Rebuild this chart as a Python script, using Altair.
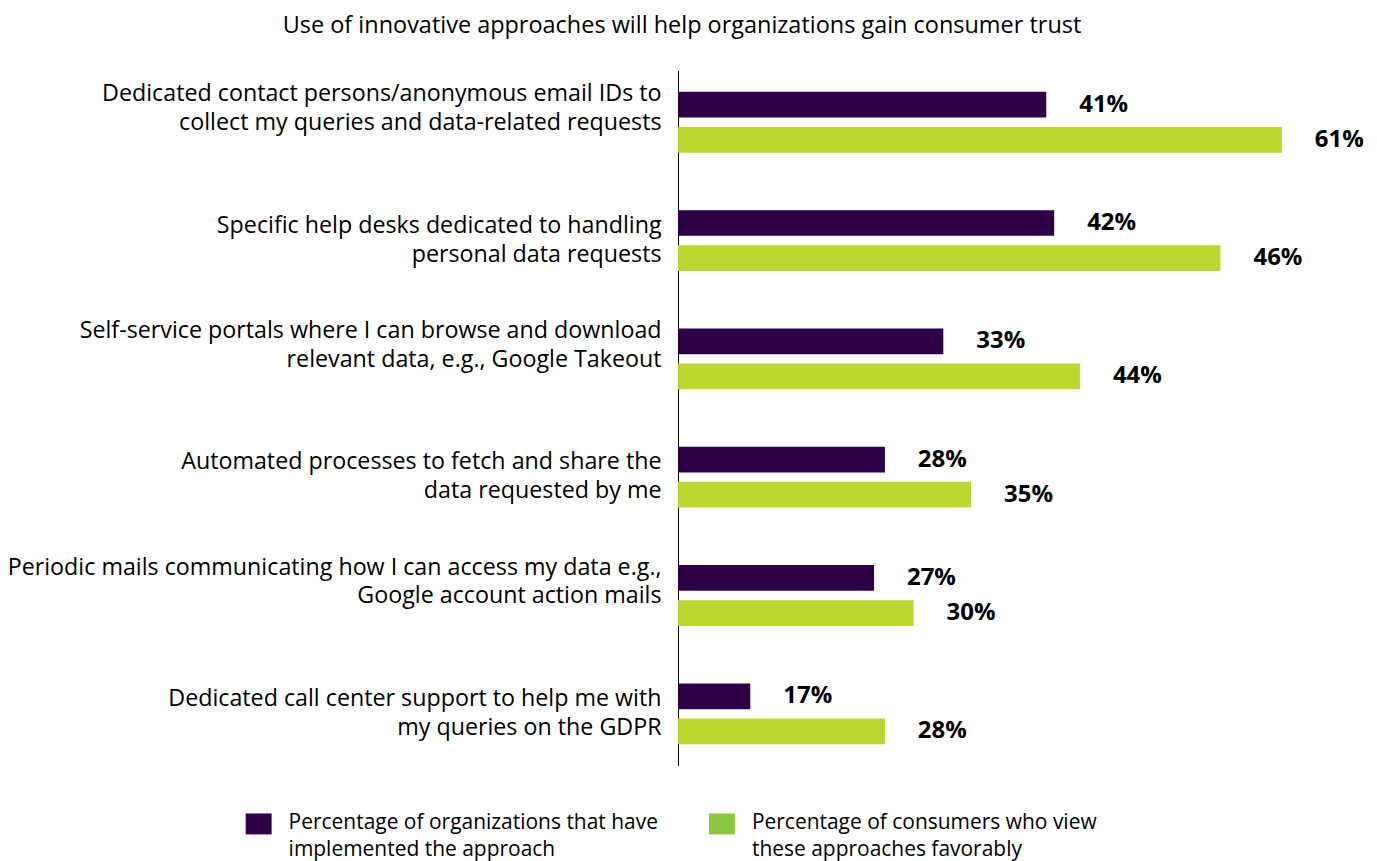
import altair as alt
import pandas as pd

FONT = "Open Sans"

title_text = "Use of innovative approaches will help organizations gain consumer trust"

categories = [
    "Dedicated contact persons/anonymous email IDs to|collect my queries and data-related requests",
    "Specific help desks dedicated to handling|personal data requests",
    "Self-service portals where I can browse and download|relevant data, e.g., Google Takeout",
    "Automated processes to fetch and share the|data requested by me",
    "Periodic mails communicating how I can access my data e.g.,|Google account action mails",
    "Dedicated call center support to help me with|my queries on the GDPR",
]
series = [
    "Percentage of organizations that have implemented the approach",
    "Percentage of consumers who view these approaches favorably",
]
legend_lines = [
    ["Percentage of organizations that have", "implemented the approach"],
    ["Percentage of consumers who view", "these approaches favorably"],
]
# printed values
org_pct = [41, 42, 33, 28, 27, 17]
cons_pct = [61, 46, 44, 35, 30, 28]
# drawn bar lengths (same axis units)
org_bar = [37.2, 38.0, 26.8, 20.9, 19.8, 7.3]
cons_bar = [61.0, 54.8, 40.6, 29.6, 23.8, 20.9]

bar_colors = ["#2E0047", "#BDD632"]
legend_colors = ["#2E0047", "#8DC63F"]

rows = []
for i, c in enumerate(categories):
    rows.append({"category": c, "series": series[0], "bar": org_bar[i], "label": f"{org_pct[i]}%"})
    rows.append({"category": c, "series": series[1], "bar": cons_bar[i], "label": f"{cons_pct[i]}%"})
df = pd.DataFrame(rows)

odd_test = "indexof([" + ",".join("'" + categories[i] + "'" for i in (0, 2, 4)) + "], datum.value) >= 0"

base = alt.Chart(df).encode(
    y=alt.Y(
        "category:N",
        sort=categories,
        scale=alt.Scale(paddingInner=0.486, paddingOuter=0.18),
        axis=alt.Axis(
            title=None,
            labelExpr="split(datum.label, '|')",
            labelFont=FONT,
            labelFontSize=23.3,
            labelColor="black",
            labelPadding=17,
            labelLineHeight=29,
            labelLimit=800,
            labelAlign="right",
            labelBaseline="middle",
            labelOffset={"condition": {"test": odd_test, "value": -28}, "value": -15},
            ticks=False,
            grid=False,
            domain=True,
            domainColor="black",
            domainWidth=1,
        ),
    ),
    yOffset=alt.YOffset("series:N", sort=series, scale=alt.Scale(paddingInner=0.267)),
)

xscale = alt.Scale(domain=[0, 69.8])

bars = base.mark_bar().encode(
    x=alt.X("bar:Q", scale=xscale, axis=None),
    color=alt.Color("series:N", scale=alt.Scale(domain=series, range=bar_colors), legend=None),
)

labels = base.mark_text(
    align="left", baseline="middle", dx=33, font=FONT, fontSize=24, fontWeight="bold", color="black"
).encode(
    x=alt.X("bar:Q", scale=xscale, axis=None),
    text="label:N",
)

title = alt.Chart(pd.DataFrame({"t": [title_text]})).mark_text(
    font=FONT, fontSize=23.5, color="black", align="center", baseline="middle"
).encode(x=alt.value(4), y=alt.value(-45), text="t:N")

legend_layers = []
sq_x = [-433, 31]
for k in range(2):
    sq = alt.Chart(pd.DataFrame({"s": [series[k]]})).mark_rect(color=legend_colors[k]).encode(
        x=alt.value(sq_x[k]), x2=alt.value(sq_x[k] + 26), y=alt.value(744), y2=alt.value(765)
    )
    tx = alt.Chart(pd.DataFrame({"t": [legend_lines[k]]})).mark_text(
        font=FONT, fontSize=21, color="black", align="left", baseline="top", lineHeight=27
    ).encode(x=alt.value(sq_x[k] + 43), y=alt.value(743), text="t")
    legend_layers += [sq, tx]

chart = alt.layer(bars, labels, title, *legend_layers).properties(
    width=692,
    height=696,
    autosize=alt.AutoSizeParams(type="none"),
    padding={"left": 671, "top": 62, "right": 0, "bottom": 95},
).configure(background="white", view=alt.ViewConfig(stroke=None))

chart.save("out.html", embed_options={"renderer": "svg", "actions": False})
